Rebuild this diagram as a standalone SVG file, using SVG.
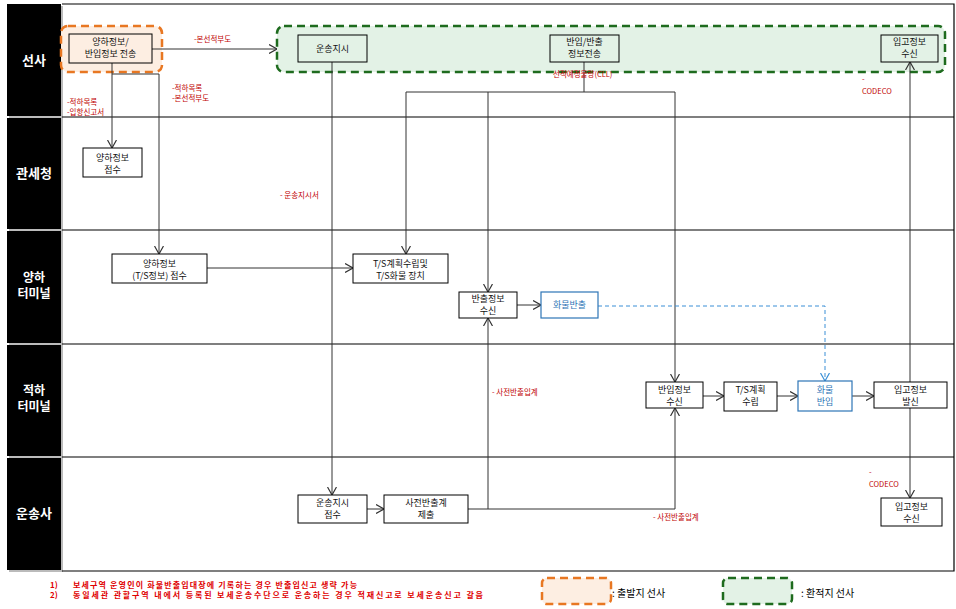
<svg xmlns="http://www.w3.org/2000/svg" width="956" height="609" viewBox="0 0 956 609">
<style>
.bg{fill:#fff}
.hdr{fill:#000}
.lane{stroke:#000;stroke-width:1.2;fill:none}
.box{fill:#fff;stroke:#000;stroke-width:1}
.tbox{fill:none;stroke:#000;stroke-width:1}
.bbox{fill:#fff;stroke:#2e75b6;stroke-width:1.2}
.t{font-family:"Noto Sans CJK KR","Noto Sans",sans-serif;font-size:9px;text-anchor:middle;fill:#111}
.tb{fill:#2e75b6}
.hd{font-family:"Noto Sans CJK KR","Noto Sans",sans-serif;font-size:12px;font-weight:bold;text-anchor:middle;fill:#fff}
.hd1{font-size:13px}
.lbl{font-family:"Noto Sans CJK KR","Noto Sans",sans-serif;font-size:7.5px;fill:#c00000}
.conn{stroke:#333;stroke-width:1;fill:none}
.dash{stroke:#3a8fd6;stroke-width:1;fill:none;stroke-dasharray:4,3}
.org{fill:#fdeee2;stroke:#e87722;stroke-width:2.5;stroke-dasharray:8,5}
.grn{fill:#e3f2e6;stroke:#1e6b1e;stroke-width:2.5;stroke-dasharray:8,5}
.fn{font-family:"Noto Sans CJK KR","Noto Sans",sans-serif;font-size:8px;font-weight:bold;fill:#e00000}
.lg{font-family:"Noto Sans CJK KR","Noto Sans",sans-serif;font-size:10px;fill:#000}
</style>
<defs>
<marker id="arr" viewBox="0 0 8 10" refX="8" refY="5" markerWidth="8" markerHeight="10" markerUnits="userSpaceOnUse" orient="auto">
<path d="M0,0.5 L8,5 L0,9.5" fill="none" stroke="#333" stroke-width="1.2"/>
</marker>
<marker id="arrb" viewBox="0 0 8 10" refX="8" refY="5" markerWidth="8" markerHeight="10" markerUnits="userSpaceOnUse" orient="auto">
<path d="M0,0.5 L8,5 L0,9.5" fill="none" stroke="#3a8fd6" stroke-width="1.2"/>
</marker>
</defs>
<rect class="bg" x="0" y="0" width="956" height="609"/>

<g id="lanes">
<rect x="9" y="6" width="54" height="566" fill="#bbb"/>
<rect class="hdr" x="7" y="4" width="54" height="112"/>
<rect class="hdr" x="7" y="118" width="54" height="111"/>
<rect class="hdr" x="7" y="231" width="54" height="112"/>
<rect class="hdr" x="7" y="345" width="54" height="111"/>
<rect class="hdr" x="7" y="458" width="54" height="112"/>
<text class="hd hd1" x="34" y="65">선사</text>
<text class="hd hd1" x="34" y="178">관세청</text>
<text class="hd" x="34" y="282">양하</text>
<text class="hd" x="34" y="298">터미널</text>
<text class="hd" x="34" y="395">적하</text>
<text class="hd" x="34" y="411">터미널</text>
<text class="hd hd1" x="34" y="518">운송사</text>
<path class="lane" d="M62,4 H954 V571 H62 M62,117 H954 M62,230 H954 M62,344 H954 M62,457 H954"/>
</g>

<g id="groups">
<rect id="origin-carrier" class="org" x="61" y="26" width="101" height="46" rx="7"/>
<rect id="transship-carrier" class="grn" x="277" y="26" width="668" height="46" rx="7"/>
</g>

<g id="connectors">
<path class="conn" d="M152,49 H277" marker-end="url(#arr)"/>
<path class="conn" d="M112,63 V148" marker-end="url(#arr)"/>
<path class="conn" d="M112,74 H159 V254" marker-end="url(#arr)"/>
<path class="conn" d="M332,62 V495" marker-end="url(#arr)"/>
<path class="conn" d="M584,62 V92"/>
<path class="conn" d="M406,92 H675"/>
<path class="conn" d="M406,92 V254" marker-end="url(#arr)"/>
<path class="conn" d="M488,92 V292" marker-end="url(#arr)"/>
<path class="conn" d="M675,92 V382" marker-end="url(#arr)"/>
<path class="conn" d="M207,268 H353" marker-end="url(#arr)"/>
<path class="conn" d="M517,305 H541" marker-end="url(#arr)"/>
<path class="dash" d="M598,306 H825 V381" marker-end="url(#arrb)"/>
<path class="conn" d="M703,396 H724" marker-end="url(#arr)"/>
<path class="conn" d="M777,396 H798" marker-end="url(#arr)"/>
<path class="conn" d="M852,396 H874" marker-end="url(#arr)"/>
<path class="conn" d="M910,382 V62" marker-end="url(#arr)"/>
<path class="conn" d="M910,408 V498" marker-end="url(#arr)"/>
<path class="conn" d="M367,509 H384" marker-end="url(#arr)"/>
<path class="conn" d="M468,509 H488 V318" marker-end="url(#arr)"/>
<path class="conn" d="M488,509 H675 V408" marker-end="url(#arr)"/>
<text class="lbl" x="194" y="42">-본선적부도</text>
<text class="lbl" x="67" y="105">-적하목록</text>
<text class="lbl" x="67" y="115">-입항신고서</text>
<text class="lbl" x="172" y="91">-적하목록</text>
<text class="lbl" x="172" y="101">-본선적부도</text>
<text class="lbl" x="553" y="77">선적예정물량(CLL)</text>
<text class="lbl" x="862" y="82">-</text>
<text class="lbl" x="862" y="94">CODECO</text>
<text class="lbl" x="280" y="198">- 운송지시서</text>
<text class="lbl" x="492" y="395">- 사전반출입계</text>
<text class="lbl" x="653" y="520">- 사전반출입계</text>
<text class="lbl" x="869" y="475">-</text>
<text class="lbl" x="869" y="487">CODECO</text>
</g>

<g id="n1"><rect class="tbox" x="69" y="34" width="83" height="29"/><text class="t" x="110.5" y="45">양하정보/</text><text class="t" x="110.5" y="57">반입정보 전송</text></g>
<g id="n2"><rect class="tbox" x="298" y="35" width="69" height="27"/><text class="t" x="332.5" y="52">운송지시</text></g>
<g id="n3"><rect class="tbox" x="550" y="35" width="69" height="27"/><text class="t" x="584.5" y="45">반입/반출</text><text class="t" x="584.5" y="57">정보전송</text></g>
<g id="n4"><rect class="tbox" x="881" y="35" width="57" height="27"/><text class="t" x="909.5" y="45">입고정보</text><text class="t" x="909.5" y="57">수신</text></g>
<g id="n5"><rect class="box" x="83" y="148" width="59" height="29"/><text class="t" x="112.5" y="161">양하정보</text><text class="t" x="112.5" y="173">접수</text></g>
<g id="n6"><rect class="box" x="112" y="254" width="95" height="29"/><text class="t" x="159.5" y="267">양하정보</text><text class="t" x="159.5" y="279">(T/S정보) 접수</text></g>
<g id="n7"><rect class="box" x="353" y="254" width="95" height="29"/><text class="t" x="400.5" y="267">T/S계획수립및</text><text class="t" x="400.5" y="279">T/S화물 장치</text></g>
<g id="n8"><rect class="box" x="459" y="292" width="58" height="26"/><text class="t" x="488" y="302">반출정보</text><text class="t" x="488" y="314">수신</text></g>
<g id="n9"><rect class="bbox" x="541" y="292" width="57" height="26"/><text class="t tb" x="569.5" y="308">화물반출</text></g>
<g id="n10"><rect class="box" x="646" y="382" width="57" height="26"/><text class="t" x="674.5" y="393">반입정보</text><text class="t" x="674.5" y="405">수신</text></g>
<g id="n11"><rect class="box" x="724" y="382" width="53" height="29"/><text class="t" x="750.5" y="393">T/S계획</text><text class="t" x="750.5" y="405">수립</text></g>
<g id="n12"><rect class="bbox" x="798" y="381" width="54" height="30"/><text class="t tb" x="825" y="393">화물</text><text class="t tb" x="825" y="405">반입</text></g>
<g id="n13"><rect class="box" x="874" y="382" width="73" height="26"/><text class="t" x="910.5" y="393">입고정보</text><text class="t" x="910.5" y="405">발신</text></g>
<g id="n14"><rect class="box" x="298" y="495" width="69" height="28"/><text class="t" x="332.5" y="506">운송지시</text><text class="t" x="332.5" y="518">접수</text></g>
<g id="n15"><rect class="box" x="384" y="495" width="84" height="28"/><text class="t" x="426" y="506">사전반출계</text><text class="t" x="426" y="518">제출</text></g>
<g id="n16"><rect class="box" x="881" y="498" width="61" height="28"/><text class="t" x="911.5" y="510">입고정보</text><text class="t" x="911.5" y="522">수신</text></g>

<g id="notes">
<text class="fn" x="50" y="588">1)</text>
<text class="fn" x="73" y="588" textLength="284" lengthAdjust="spacing">보세구역 운영인이 화물반출입대장에  기록하는 경우 반출입신고 생략 가능</text>
<text class="fn" x="50" y="598">2)</text>
<text class="fn" x="73" y="598" textLength="410" lengthAdjust="spacing">동일세관 관할구역 내에서 등록된 보세운송수단으로 운송하는 경우 적재신고로 보세운송신고 갈음</text>
</g>

<g id="legend">
<rect class="org" x="542" y="578" width="69" height="26" rx="5"/>
<text class="lg" x="612" y="597">: 출발지 선사</text>
<rect class="grn" x="723" y="578" width="69" height="26" rx="5"/>
<text class="lg" x="801" y="597">: 환적지 선사</text>
</g>
</svg>
